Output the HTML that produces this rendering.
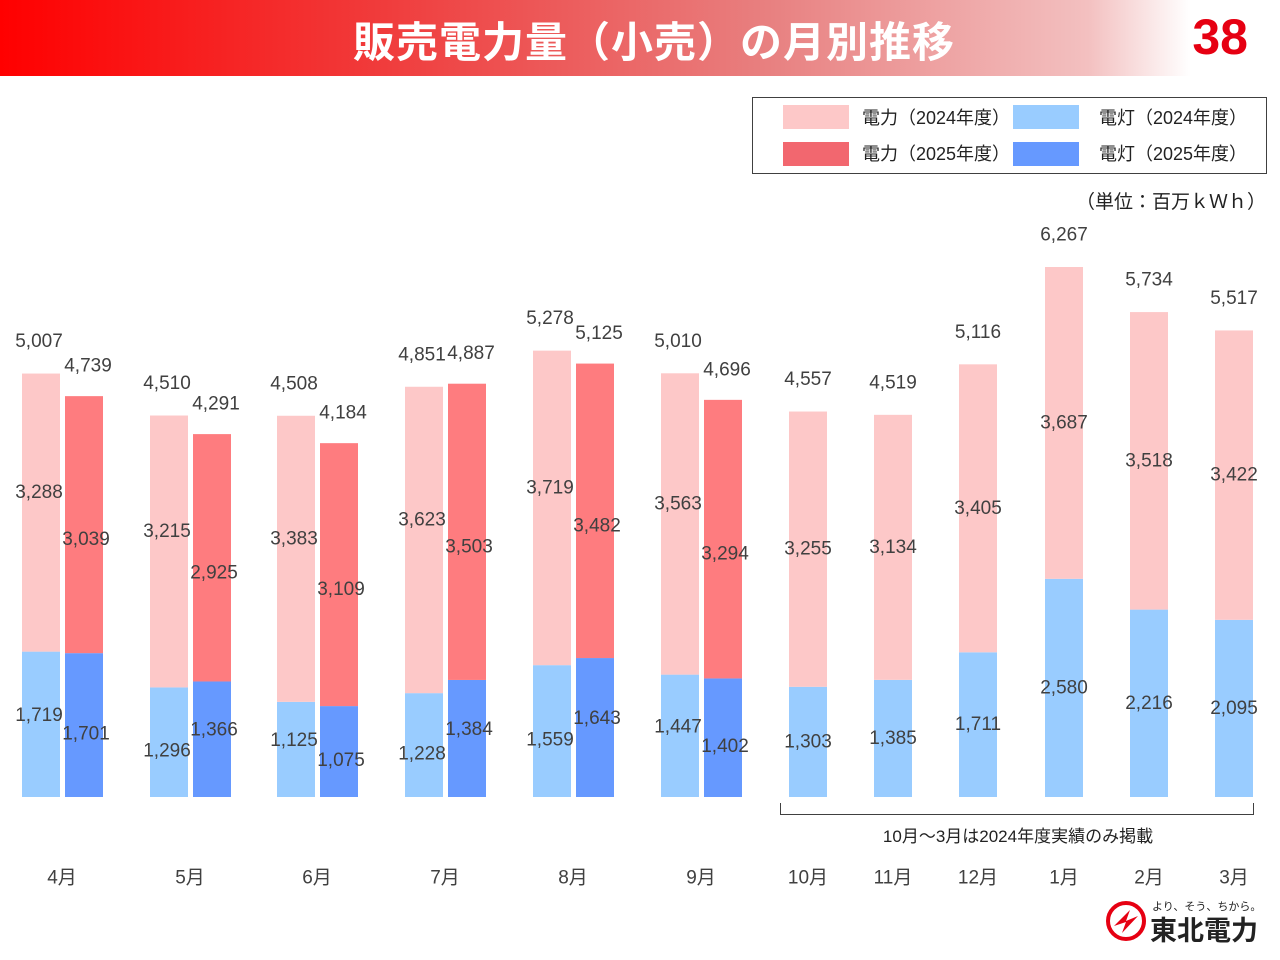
<!DOCTYPE html>
<html><head><meta charset="utf-8"><style>
body{margin:0;width:1280px;height:960px;background:#fff;overflow:hidden;font-family:"Liberation Sans","Noto Sans CJK JP",sans-serif;}
#hdr{position:absolute;left:0;top:0;width:1280px;height:76px;background:linear-gradient(90deg,#ff0000 0%,#f03c3c 30%,#e88080 60%,#f3c0c0 85%,#fff 93%);}
#title{position:absolute;left:0;width:1308px;top:9px;text-align:center;color:#fff;font-weight:bold;font-size:42px;letter-spacing:1px;}
#pnum{position:absolute;right:32px;top:8px;color:#e60012;font-weight:bold;font-size:50px;}
</style></head><body>
<div id="hdr"></div>
<div id="title">販売電力量（小売）の月別推移</div>
<div id="pnum">38</div>
<svg id="chart" width="1280" height="960" style="position:absolute;left:0;top:0"></svg>
<script>
const months=["4月","5月","6月","7月","8月","9月","10月","11月","12月","1月","2月","3月"];
const light24=[1719,1296,1125,1228,1559,1447,1303,1385,1711,2580,2216,2095];
const power24=[3288,3215,3383,3623,3719,3563,3255,3134,3405,3687,3518,3422];
const total24=[5007,4510,4508,4851,5278,5010,4557,4519,5116,6267,5734,5517];
const light25=[1701,1366,1075,1384,1643,1402];
const power25=[3039,2925,3109,3503,3482,3294];
const total25=[4739,4291,4184,4887,5125,4696];
const NS="http://www.w3.org/2000/svg";
const svg=document.getElementById('chart');
const base=797, k=530/6267;
const y=v=>base-v*k;
const barW=38;
const x24=[22,150,277,405,533,661,789,874,959,1045,1130,1215];
const fmt=n=>n.toLocaleString('en-US');
function el(t,a,txt){const e=document.createElementNS(NS,t);for(const p in a)e.setAttribute(p,a[p]);if(txt!==undefined)e.textContent=txt;svg.appendChild(e);return e;}
function label(x,yy,s,name){const t=el('text',{x:x,y:yy,'text-anchor':'middle','dominant-baseline':'central','font-size':19,fill:'#404040'},s);

}
function bar(x,y0,h,c,name){const r=el('rect',{x:x,y:y0,width:barW,height:h,fill:c});

}
months.forEach((m,i)=>{
  const xa=x24[i], L=light24[i], P=power24[i];
  bar(xa,y(L),L*k,'#99ccff','bar-light-2024-'+i);
  bar(xa,y(L+P),P*k,'#fdc8c8','bar-power-2024-'+i);
  const paired=i<light25.length;
  const lx=paired?xa+17:xa+19;
  let lo24=0,lo25=0,po24=0,po25=0;
  if(paired){
    const taller24=L>=light25[i];
    lo24=taller24?-9:9; lo25=taller24?9:-9;
    po24=-20; po25=15;
  }
  label(lx,(y(L)+base)/2+lo24,fmt(L),'label-light-2024');
  label(lx,(y(L+P)+y(L))/2+po24,fmt(P),'label-power-2024');
  label(lx,y(L+P)-32,fmt(total24[i]),'label-total-2024');
  if(paired){
    const xb=xa+43, L2=light25[i], P2=power25[i];
    bar(xb,y(L2),L2*k,'#6699ff','bar-light-2025-'+i);
    bar(xb,y(L2+P2),P2*k,'#fe7c7f','bar-power-2025-'+i);
    label(xb+21,(y(L2)+base)/2+lo25,fmt(L2),'label-light-2025');
    label(xb+21,(y(L2+P2)+y(L2))/2+po25,fmt(P2),'label-power-2025');
    label(xb+23,y(L2+P2)-30,fmt(total25[i]),'label-total-2025');
  }
  const cx=paired?xa+40:xa+19;
  label(cx,878,m,'month-label');
});
</script>
<svg width="1280" height="960" style="position:absolute;left:0;top:0">
 <g>
  <rect x="752.5" y="97.5" width="514" height="76" fill="#fff" stroke="#404040"/>
  <rect x="783" y="105" width="66" height="24" fill="#fdc8c8"/>
  <rect x="783" y="142" width="66" height="24" fill="#f2676f"/>
  <rect x="1013" y="105" width="66" height="24" fill="#99ccff"/>
  <rect x="1013" y="142" width="66" height="24" fill="#6699ff"/>
  <g font-size="18" fill="#222" font-family="Liberation Sans,Noto Sans CJK JP,sans-serif">
   <text x="862" y="124">電力（2024年度）</text>
   <text x="862" y="160">電力（2025年度）</text>
   <text x="1099" y="124">電灯（2024年度）</text>
   <text x="1099" y="160">電灯（2025年度）</text>
  </g>
 </g>
 <text x="1266" y="208" text-anchor="end" font-size="19" fill="#222" font-family="Liberation Sans,Noto Sans CJK JP,sans-serif">（単位：百万ｋＷｈ）</text>
 <path d="M780.5 803 V814.5 H1253.5 V803" fill="none" stroke="#404040"/>
 <text x="1018" y="842" text-anchor="middle" font-size="17" fill="#222" font-family="Liberation Sans,Noto Sans CJK JP,sans-serif">10月～3月は2024年度実績のみ掲載</text>
 <g>
  <circle cx="1126" cy="921" r="18" fill="none" stroke="#e60012" stroke-width="4"/>
  <path d="M1114 926 L1130 910 L1126 921 L1138 916 L1122 933 L1126 922 Z" fill="#e60012"/>
  <text x="1152" y="910" font-size="11" fill="#222" font-family="Liberation Sans,Noto Sans CJK JP,sans-serif">より、そう、ちから。</text>
  <text x="1150" y="940" font-size="27" font-weight="bold" fill="#222" font-family="Liberation Sans,Noto Sans CJK JP,sans-serif">東北電力</text>
 </g>
</svg>
</body></html>
